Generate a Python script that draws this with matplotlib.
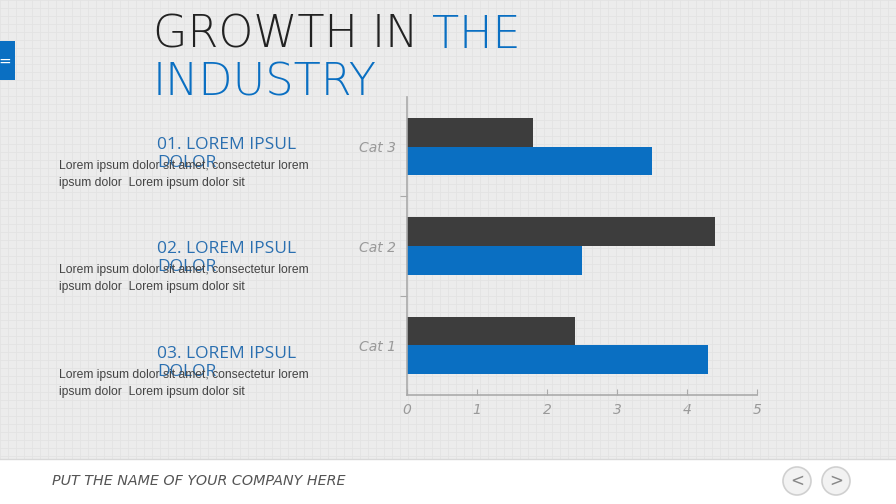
import matplotlib
matplotlib.use("Agg")
import matplotlib.pyplot as plt
from matplotlib.patches import Rectangle, Circle
import numpy as np

categories = ["Cat 1", "Cat 2", "Cat 3"]
series_blue = [4.3, 2.5, 3.5]
series_dark = [2.4, 4.4, 1.8]
x_ticks = [0, 1, 2, 3, 4, 5]

headings = ["01. LOREM IPSUL\nDOLOR", "02. LOREM IPSUL\nDOLOR", "03. LOREM IPSUL\nDOLOR"]
body = "Lorem ipsum dolor sit amet, consectetur lorem\nipsum dolor  Lorem ipsum dolor sit"
footer = "PUT THE NAME OF YOUR COMPANY HERE"

BLUE = "#0a6fc2"
DARK = "#3d3d3d"
W, H = 896, 504

fig = plt.figure(figsize=(8.96, 5.04), dpi=100)
fig.patch.set_facecolor("#ebebeb")

bg = fig.add_axes([0, 0, 1, 1], zorder=0)
bg.set_xlim(0, W)
bg.set_ylim(H, 0)
bg.axis("off")
bg.add_patch(Rectangle((0, 0), W, 459, facecolor="#ececec", edgecolor="none"))
for gx in np.arange(0, W, 8):
    bg.plot([gx, gx], [0, 459], color="#e3e3e3", lw=0.6, zorder=1)
for gy in np.arange(0, 459, 8):
    bg.plot([0, W], [gy, gy], color="#e3e3e3", lw=0.6, zorder=1)
bg.add_patch(Rectangle((0, 459), W, H - 459, facecolor="white", edgecolor="none", zorder=2))
bg.plot([0, W], [459, 459], color="#d8d8d8", lw=1, zorder=3)
bg.add_patch(Rectangle((0, 41), 15, 39, facecolor=BLUE, edgecolor="none", zorder=3))
bg.text(5, 61, "=", color="white", fontsize=11, ha="center", va="center", zorder=4)
for cx, sym in [(797, "<"), (836, ">")]:
    bg.add_patch(Circle((cx, 481), 14, facecolor="#f2f2f2", edgecolor="#d0d0d0", lw=1.2, zorder=3))
    bg.text(cx, 481, sym, color="#888888", fontsize=12, ha="center", va="center", zorder=4)

font_title = "DejaVu Sans"
t1 = bg.text(153, 35, "GROWTH IN ", fontsize=32, color="#222222", va="center", ha="left",
             family=font_title, weight="light", zorder=5)
fig.canvas.draw()
bb = t1.get_window_extent()
x_end = bb.x1 * W / fig.bbox.width
bg.text(x_end, 35, "THE", fontsize=32, color=BLUE, va="center", ha="left", family=font_title,
        weight="light", zorder=5)
bg.text(153, 83, "INDUSTRY", fontsize=32, color=BLUE, va="center", ha="left", family=font_title,
        weight="light", zorder=5)

for i, yh in enumerate([145, 249, 354]):
    l1, l2 = headings[i].split("\n")
    bg.text(157, yh, l1, fontsize=12.5, color="#2a6fb0", va="center",
            ha="left", family="Open Sans", zorder=5)
    bg.text(157, yh + 18, l2, fontsize=12.5, color="#2a6fb0", va="center",
            ha="left", family="Open Sans", zorder=5)
    b1, b2 = body.split("\n")
    bg.text(59, yh + 21, b1, fontsize=8.7, color="#444444", va="center",
            ha="left", family="Liberation Sans", zorder=6)
    bg.text(59, yh + 38, b2, fontsize=8.7, color="#444444", va="center",
            ha="left", family="Liberation Sans", zorder=6)

bg.text(52, 481, footer, fontsize=10.3, color="#555555", va="center", ha="left",
        family="DejaVu Sans", style="italic", zorder=5)

ax = fig.add_axes([407 / W, 109 / H, 350 / W, 298 / H], zorder=2)
ax.patch.set_alpha(0)
y = np.arange(len(categories))
h = 0.29
ax.barh(y + h / 2, series_dark, height=h, color=DARK)
ax.barh(y - h / 2, series_blue, height=h, color=BLUE)
ax.set_xlim(0, 5)
ax.set_ylim(-0.5, 2.5)
ax.set_xticks(x_ticks)
ax.set_xticklabels([str(v) for v in x_ticks], fontsize=10, color="#999999", style="italic")
ax.set_yticks([0.5, 1.5], minor=False)
ax.set_yticklabels([])
ax.set_yticks(y, minor=True)
ax.set_yticklabels(categories, minor=True, fontsize=10, color="#999999", style="italic")
ax.tick_params(axis="y", which="minor", length=0, pad=8)
ax.tick_params(axis="y", which="major", length=5, color="#aaaaaa", direction="out")
ax.tick_params(axis="x", length=4, color="#aaaaaa", direction="in", pad=6)
for s in ["top", "right"]:
    ax.spines[s].set_visible(False)
for s in ["left", "bottom"]:
    ax.spines[s].set_color("#aaaaaa")
    ax.spines[s].set_linewidth(1.2)

fig.savefig("out.png", dpi=100, facecolor=fig.get_facecolor())
